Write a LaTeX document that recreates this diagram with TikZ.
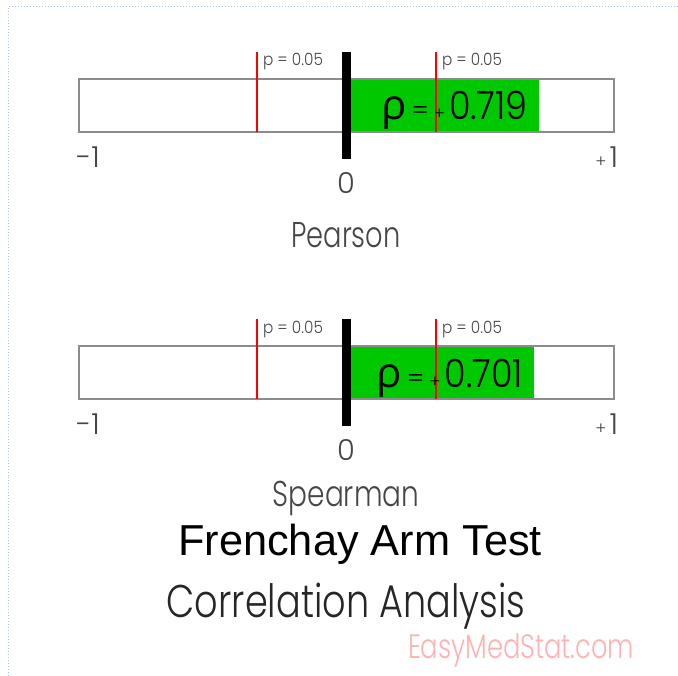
\documentclass[tikz,border=0pt]{standalone}
\usepackage{graphicx}
\usepackage{fontspec}
\setmainfont{Poppins Light}
\newfontfamily\greekfont{Open Sans}
\newfontfamily\titlefont{Liberation Sans}
\usetikzlibrary{positioning}
\definecolor{barGreen}{RGB}{0,200,0}
\definecolor{boxGray}{RGB}{140,140,140}
\definecolor{textGray}{RGB}{70,70,70}
\definecolor{frameBlue}{RGB}{170,196,240}
\definecolor{siteRed}{RGB}{255,178,178}
\newcommand{\fsz}[1]{\fontsize{#1}{#1}\selectfont}
\newcommand{\narrow}[2]{\scalebox{#1}[1]{#2}}
\begin{document}
\begin{tikzpicture}[x=1bp,y=-1bp,
    every node/.style={inner sep=0pt, outer sep=0pt},
    tick/.style={font=\fsz{29}, text=textGray, anchor=base},
    pval/.style={font=\fsz{17}, text=textGray, anchor=base west}]
\useasboundingbox (0,0) rectangle (678,676);
\draw[frameBlue, dotted, line width=1bp] (8,676) -- (8,7) -- (678,7);

\foreach \dy/\cf/\nm/\lb/\ly/\lx in {0/0.719/P/Pearson/247/0.76, 267/0.701/S/Spearman/239/0.78}{
  \begin{scope}[yshift=-\dy bp]
    \pgfmathsetmacro\gx{346+268*\cf}
    \fill[barGreen] (346,79) rectangle (\gx,132);
    \draw[boxGray, line width=1.5bp] (79,79) rectangle (614,132);
    \draw[red, line width=1.2bp] (257,52) -- (257,132);
    \draw[red, line width=1.2bp] (436,52) -- (436,132);
    \fill[black] (342,52) rectangle (351,159);

    \node[pval] (pL\nm) at (263,66) {\narrow{0.9}{p = 0.05}};
    \node[pval] (pR\nm) at (442,66) {\narrow{0.9}{p = 0.05}};
    \node[tick] (lo\nm) at (88,167) {-1};
    \node[tick, anchor=base east] (hi\nm) at (618,167) {{\fsz{17}+}\hspace{3bp}1};
    \node[tick] (zero\nm) at (346,193) {0};

    \node[font=\fsz{39}, anchor=base east] (val\nm) at (\gx-11,120) {\narrow{0.9}{\cf}};
    \node[anchor=base east, left=4 of val\nm.base west, anchor=base east] (eq\nm) {{\fsz{26}=}\hspace{5bp}{\fsz{17}+}};
    \node[font=\greekfont\fsz{42}, anchor=base east, left=5 of eq\nm.base west, anchor=base east] (rho\nm) {ρ};

    \node[font=\fsz{36}, text=textGray, anchor=base] (lab\nm) at (346,\ly) {\narrow{\lx}{\lb}};
  \end{scope}
}

\node[font=\titlefont\fsz{43.5}, anchor=base] (title) at (360,555) {Frenchay Arm Test};
\node[font=\fsz{46}, text=black!85, anchor=base] (sub) at (346,617) {\narrow{0.8}{Correlation Analysis}};
\node[font=\fsz{34}, text=siteRed, anchor=base west] (site) at (408,658) {\narrow{0.76}{EasyMedStat.com}};
\end{tikzpicture}
\end{document}
